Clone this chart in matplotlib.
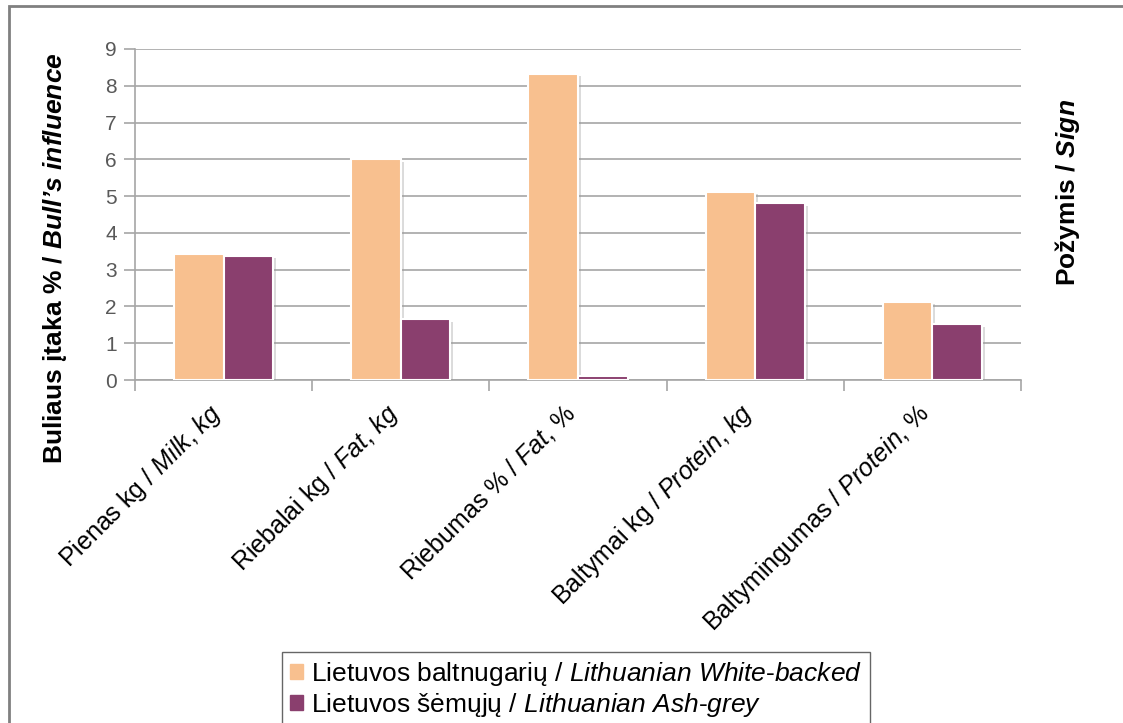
import matplotlib
matplotlib.use("Agg")
import matplotlib.pyplot as plt
import matplotlib.patheffects as pe
import numpy as np
from matplotlib.patches import Rectangle
from matplotlib.transforms import ScaledTranslation

plt.rcParams['font.family'] = ['Liberation Sans', 'DejaVu Sans']
plt.rcParams['mathtext.fontset'] = 'custom'
plt.rcParams['mathtext.rm'] = 'Liberation Sans'
plt.rcParams['mathtext.it'] = 'Liberation Sans:italic'
plt.rcParams['mathtext.bf'] = 'Liberation Sans:bold'
plt.rcParams['mathtext.bfit'] = 'Liberation Sans:bold:italic'

# duomenys
categories = [
    r"Pienas kg / $\mathit{Milk}$, $\mathit{kg}$",
    r"Riebalai kg / $\mathit{Fat}$, $\mathit{kg}$",
    r"Riebumas % / $\mathit{Fat}$, %",
    r"Baltymai kg / $\mathit{Protein}$, $\mathit{kg}$",
    r"Baltymingumas / $\mathit{Protein}$, %",
]
white_backed = [3.42, 6.01, 8.33, 5.12, 2.13]
ash_grey = [3.38, 1.65, 0.11, 4.82, 1.52]
series_names = [
    r"Lietuvos baltnugarių / $\mathit{Lithuanian}$ $\mathit{White\text{-}backed}$",
    r"Lietuvos šėmųjų / $\mathit{Lithuanian}$ $\mathit{Ash\text{-}grey}$",
]
yticks = list(range(0, 10))

c_orange = '#F8C08F'
c_purple = '#8A3F6E'
c_grid = '#A6A6A6'

fig = plt.figure(figsize=(11.23, 7.23), dpi=100)
ax = fig.add_axes([135 / 1123, 1 - 380 / 723, 886 / 1123, 331 / 723])

x = np.arange(len(categories))
w = 0.28
shadow = [pe.SimplePatchShadow(offset=(2, -2), shadow_rgbFace='#999999', alpha=0.35), pe.Normal()]
ax.bar(x - w / 2, white_backed, w, color=c_orange, edgecolor='white', linewidth=1.5,
       zorder=3, path_effects=shadow)
ax.bar(x + w / 2, ash_grey, w, color=c_purple, edgecolor='white', linewidth=1.5,
       zorder=3, path_effects=shadow)

ax.set_xlim(-0.5, len(categories) - 0.5)
ax.set_ylim(0, 9)
ax.set_yticks(yticks)
ax.yaxis.grid(True, color=c_grid, linewidth=1.2, zorder=0)
ax.set_axisbelow(True)

for s in ['top', 'right']:
    ax.spines[s].set_visible(False)
for s in ['left', 'bottom']:
    ax.spines[s].set_color(c_grid)
    ax.spines[s].set_linewidth(1.2)

ax.tick_params(axis='y', length=8, width=1.2, color=c_grid, labelsize=15,
               labelcolor='#595959', pad=5)
ax.set_xticks(x)
ax.set_xticklabels(categories, rotation=45, ha='right', rotation_mode='anchor',
                   fontsize=18)
ax.tick_params(axis='x', which='major', length=0, pad=14)
ax.set_xticks(np.arange(-0.5, len(categories)), minor=True)
ax.tick_params(axis='x', which='minor', length=8, width=1.2, color=c_grid)

# подвинуть подписи категорий немного влево
shift = ScaledTranslation(-16 / 100, 0, fig.dpi_scale_trans)
for lbl in ax.get_xticklabels():
    lbl.set_transform(lbl.get_transform() + shift)

fig.text(55 / 1123, 1 - 258 / 723,
         r"Buliaus įtaka % / $\mathbfit{Bull’s}$ $\mathbfit{influence}$",
         rotation=90, ha='center', va='center', fontsize=19, fontweight='bold')
fig.text(1067 / 1123, 1 - 192 / 723, r"Požymis / $\mathbfit{Sign}$",
         rotation=90, ha='center', va='center', fontsize=19, fontweight='bold')

handles = [Rectangle((0, 0), 1, 1, color=c_orange), Rectangle((0, 0), 1, 1, color=c_purple)]
leg = fig.legend(handles, series_names, loc='upper left',
                 bbox_to_anchor=(282 / 1123, 1 - 652 / 723),
                 fontsize=19, frameon=True, fancybox=False, handlelength=0.5,
                 handleheight=0.5, handletextpad=0.3, labelspacing=0.1,
                 borderpad=0.3, borderaxespad=0)
leg.get_frame().set_edgecolor('#404040')
leg.get_frame().set_linewidth(1.0)

# рамка вокруг рисунка
fig.patches.append(Rectangle((9 / 1123, -0.1), 1.2, 1 - 6 / 723 + 0.1,
                             transform=fig.transFigure, fill=False,
                             edgecolor='#808080', linewidth=2))

fig.savefig('out.png', dpi=100)
